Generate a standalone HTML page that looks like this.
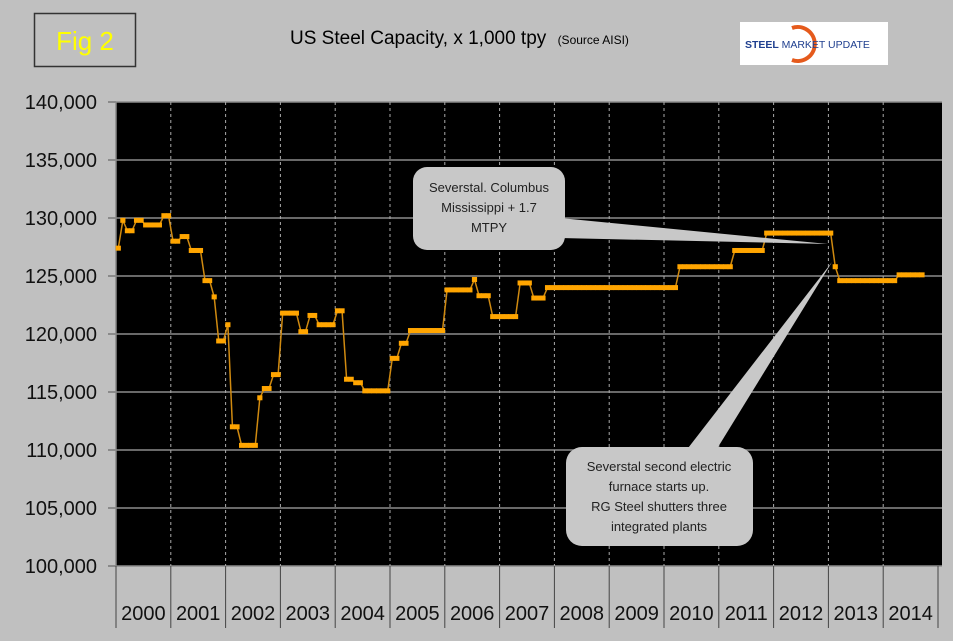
<!DOCTYPE html>
<html><head><meta charset="utf-8"><style>
body{margin:0;background:#c0c0c0;font-family:"Liberation Sans",Arial,sans-serif}
svg{display:block}
</style></head><body>
<svg id="chart" width="953" height="641">
<rect x="0" y="0" width="953" height="641" fill="#c0c0c0"/>
<g>
<rect x="34.5" y="13.5" width="101" height="53" fill="none" stroke="#333" stroke-width="1.5"/>
<text x="85" y="50" font-size="26" fill="#ffff00" text-anchor="middle">Fig 2</text>
</g>
<text x="290" y="44" font-size="19" fill="#000">US Steel Capacity, x 1,000 tpy <tspan font-size="12" dx="6">(Source AISI)</tspan></text>
<g>
<rect x="740" y="22" width="148" height="43" fill="#fff"/>
<path d="M792 28 A17 17 0 1 1 792 60" fill="none" stroke="#e55a1c" stroke-width="4"/>
<text x="745" y="48" font-size="10.5" font-weight="bold" fill="#1f3f8f">STEEL <tspan font-weight="normal">MARKET UPDATE</tspan></text>
</g>
<rect x="116" y="102" width="826" height="464" fill="#000"/>
<g id="grid"></g><g id="axes"></g><g id="series"></g>
<g>
<path d="M560 218 L828 244 L560 238 Z" fill="#c8c8c8"/>
<rect x="413" y="167" width="152" height="83" rx="14" fill="#c8c8c8"/>
<text font-size="13" fill="#222" text-anchor="middle"><tspan x="489" y="192">Severstal. Columbus</tspan><tspan x="489" y="212">Mississippi + 1.7</tspan><tspan x="489" y="232">MTPY</tspan></text>
</g>
<g>
<path d="M685 452 L832 262 L715 452 Z" fill="#c8c8c8"/>
<rect x="566" y="447" width="187" height="99" rx="16" fill="#c8c8c8"/>
<text font-size="13" fill="#222" text-anchor="middle"><tspan x="659" y="471">Severstal second electric</tspan><tspan x="659" y="491">furnace starts up.</tspan><tspan x="659" y="511">RG Steel shutters three</tspan><tspan x="659" y="531">integrated plants</tspan></text>
</g>
</svg>
<script>
const yTicks=[100000,105000,110000,115000,120000,125000,130000,135000,140000];
const years=["2000","2001","2002","2003","2004","2005","2006","2007","2008","2009","2010","2011","2012","2013","2014"];
const stepStartMonths=[0,1,2,4,6,10,12,14,16,19,21,22,24,25,27,31,32,34,36,40,42,44,48,50,52,54,60,62,64,72,78,79,82,88,91,94,123,135,142,157,158,171];
const stepValues=[127400,129800,128900,129800,129400,130200,128000,128400,127200,124600,123200,119400,120800,112000,110400,114500,115300,116500,121800,120200,121600,120800,122000,116100,115800,115100,117900,119200,120300,123800,124700,123300,121500,124400,123100,124000,125800,127200,128700,125800,124600,125100];
const lastMonth=176;
const L=116,R=942,T=102,B=566,yearW=54.8,monthW=yearW/12;
const NS="http://www.w3.org/2000/svg";
const yS=v=>B-(v-100000)/40000*(B-T);
const xS=m=>L+m*monthW+monthW/2;
function mk(t,a,p){const e=document.createElementNS(NS,t);for(const k in a)e.setAttribute(k,a[k]);p.appendChild(e);return e;}
const grid=document.getElementById('grid'),axes=document.getElementById('axes'),ser=document.getElementById('series');
yTicks.forEach(v=>{
 const y=yS(v);
 const g=mk('line',{x1:L,x2:R,y1:y,y2:y,stroke:'#8c8c8c','stroke-width':1.5},grid);
 
 
 mk('line',{x1:L-8,x2:L,y1:y,y2:y,stroke:'#555'},axes);
 const t=mk('text',{x:97,y:y+7,'font-size':20,'text-anchor':'end',fill:'#111'},axes);
 t.textContent=v.toLocaleString('en-US');
 
 
});
years.forEach((yr,i)=>{
 const x=L+i*yearW;
 if(i>0){const d=mk('line',{x1:x,x2:x,y1:T,y2:B,stroke:'#aaa','stroke-dasharray':'3,3'},grid);
 
 }
 mk('line',{x1:x,x2:x,y1:B,y2:628,stroke:'#444'},axes);
 const t=mk('text',{x:x+yearW/2,y:620,'font-size':20,'text-anchor':'middle',fill:'#111'},axes);
 t.textContent=yr;
 
 
});
mk('line',{x1:L+15*yearW,x2:L+15*yearW,y1:B,y2:628,stroke:'#444'},axes);
mk('line',{x1:L,x2:L,y1:T,y2:B,stroke:'#888','stroke-width':1.5},axes);
const vals=[];
for(let m=0;m<=lastMonth;m++){let v=stepValues[0];stepStartMonths.forEach((s,i)=>{if(m>=s)v=stepValues[i];});vals.push(v);}
const pl=mk('polyline',{points:vals.map((v,m)=>xS(m)+','+yS(v)).join(' '),fill:'none',stroke:'#d08a10','stroke-width':1.5},ser);


vals.forEach((v,m)=>{
 const r=mk('rect',{x:xS(m)-monthW/2-0.3,y:yS(v)-2.5,width:monthW+0.6,height:5,fill:'#ffa500'},ser);
 
 
});
</script>
</body></html>
